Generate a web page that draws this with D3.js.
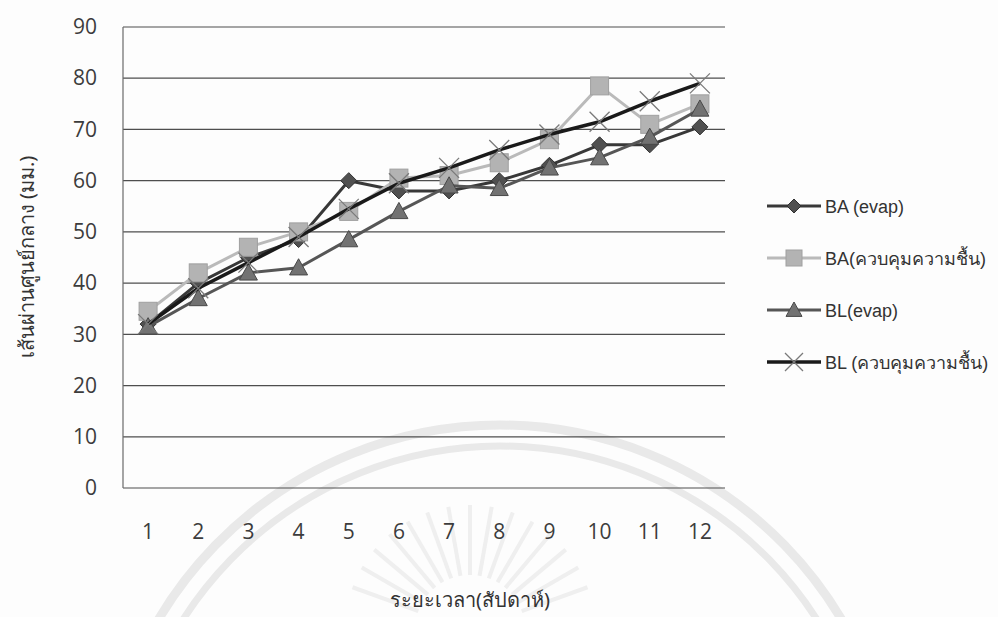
<!DOCTYPE html>
<html>
<head>
<meta charset="utf-8">
<script src="https://cdn.jsdelivr.net/npm/d3@7/dist/d3.min.js"></script>
<style>
  html, body { margin: 0; padding: 0; background: #fdfdfd; }
  svg { display: block; }
</style>
</head>
<body>
<svg id="chart" width="998" height="617"></svg>
<script>
// Weeks on the x axis
const weeks = ["1", "2", "3", "4", "5", "6", "7", "8", "9", "10", "11", "12"];
// Stem diameter (mm) per week for each treatment
const baEvap    = [32, 40, 45, 48.5, 60, 58, 58, 60, 63, 67, 67, 70.5];
const baControl = [34.5, 42, 47, 50, 54, 60.5, 61, 63.5, 68, 78.5, 71, 75];
const blEvap    = [31.5, 37, 42, 43, 48.5, 54, 59, 58.5, 62.5, 64.5, 68.5, 74];
const blControl = [32, 39, 44, 49, 54.5, 59.5, 62.5, 66, 69, 71.5, 75.5, 79];
const yTicks = [0, 10, 20, 30, 40, 50, 60, 70, 80, 90];
const seriesNames = ["BA (evap)", "BA(ควบคุมความชื้น)", "BL(evap)", "BL (ควบคุมความชื้น)"];
const yTitle = "เส้นผ่านศูนย์กลาง (มม.)";
const xTitle = "ระยะเวลา(สัปดาห์)";

const series = [
  { name: seriesNames[0], values: baEvap,    line: "#383838", lw: 3,   marker: "diamond",  mfill: "#505050", mstroke: "#303030", size: 8 },
  { name: seriesNames[1], values: baControl, line: "#bababa", lw: 3,   marker: "square",   mfill: "#b3b3b3", mstroke: "#a0a0a0", size: 9 },
  { name: seriesNames[2], values: blEvap,    line: "#565656", lw: 3,   marker: "triangle", mfill: "#727272", mstroke: "#484848", size: 9 },
  { name: seriesNames[3], values: blControl, line: "#1a1a1a", lw: 3.5, marker: "cross",    mfill: "none",    mstroke: "#7a7a7a", size: 10 }
];

const svg = d3.select("#chart");
const plot = { left: 123, right: 725, top: 27, bottom: 488 };

const x = d3.scaleBand().domain(weeks).range([plot.left, plot.right]);
const y = d3.scaleLinear().domain([0, 90]).range([plot.bottom, plot.top]);

// Faint emblem in the background: two arcs and a fan of rays
const bg = svg.append("g").attr("fill", "none").attr("stroke", "#e9e9e9");
[[397, 9], [376, 7]].forEach(([r, w]) => {
  bg.append("path")
    .attr("d", d3.arc()({ innerRadius: r, outerRadius: r, startAngle: -1.6, endAngle: 1.6 }))
    .attr("transform", "translate(500,822)")
    .attr("stroke-width", w);
});
d3.range(-70, 71, 10).forEach(a => {
  const t = (a - 90) * Math.PI / 180;
  bg.append("line")
    .attr("x1", 470 + 55 * Math.cos(t)).attr("y1", 630 + 55 * Math.sin(t))
    .attr("x2", 470 + 125 * Math.cos(t)).attr("y2", 630 + 125 * Math.sin(t))
    .attr("stroke-width", 4).attr("stroke", "#efefef");
});

// Horizontal gridlines
svg.append("g")
  .selectAll("line")
  .data(yTicks)
  .join("line")
  .attr("x1", plot.left).attr("x2", plot.right)
  .attr("y1", d => y(d)).attr("y2", d => y(d))
  .attr("stroke", "#4e4e4e").attr("stroke-width", 1.2);

// Left axis line
svg.append("line")
  .attr("x1", plot.left).attr("x2", plot.left)
  .attr("y1", plot.top).attr("y2", plot.bottom)
  .attr("stroke", "#6a6a6a").attr("stroke-width", 1.2);

const tickFont = "'Open Sans', Lato, sans-serif";

// Y axis labels
const yAxis = svg.append("g")
  .attr("transform", `translate(${plot.left},0)`)
  .call(d3.axisLeft(y).tickValues(yTicks).tickSize(0).tickPadding(26));
yAxis.select(".domain").remove();
yAxis.selectAll("text")
  .attr("font-family", tickFont)
  .attr("font-size", 21).attr("fill", "#3c3c3c");

// X axis labels
const xAxis = svg.append("g")
  .attr("transform", `translate(0,${plot.bottom})`)
  .call(d3.axisBottom(x).tickSize(0).tickPadding(36));
xAxis.select(".domain").remove();
xAxis.selectAll("text")
  .attr("font-family", tickFont)
  .attr("font-size", 21).attr("fill", "#3c3c3c");

// Axis titles
svg.append("text")
  .attr("transform", `translate(34,257) rotate(-90)`)
  .attr("text-anchor", "middle")
  .attr("font-family", "'Noto Sans', 'DejaVu Sans', sans-serif")
  .attr("font-size", 20).attr("fill", "#333")
  .text(yTitle);

svg.append("text")
  .attr("x", 470).attr("y", 607)
  .attr("text-anchor", "middle")
  .attr("font-family", "'Noto Sans', 'DejaVu Sans', sans-serif")
  .attr("font-size", 20).attr("fill", "#333")
  .text(xTitle);

const cx = d => x(d) + x.bandwidth() / 2;

function drawMarker(g, s, px, py, k) {
  if (s.marker === "diamond") {
    g.append("path").attr("d", `M${px},${py - k}L${px + k},${py}L${px},${py + k}L${px - k},${py}Z`)
      .attr("fill", s.mfill).attr("stroke", s.mstroke).attr("stroke-width", 1);
  } else if (s.marker === "square") {
    g.append("rect").attr("x", px - k).attr("y", py - k).attr("width", 2 * k).attr("height", 2 * k)
      .attr("fill", s.mfill).attr("stroke", s.mstroke).attr("stroke-width", 1);
  } else if (s.marker === "triangle") {
    g.append("path").attr("d", `M${px},${py - k}L${px + k},${py + k * 0.8}L${px - k},${py + k * 0.8}Z`)
      .attr("fill", s.mfill).attr("stroke", s.mstroke).attr("stroke-width", 1);
  } else {
    g.append("path").attr("d", `M${px - k},${py - k}L${px + k},${py + k}M${px - k},${py + k}L${px + k},${py - k}`)
      .attr("stroke", s.mstroke).attr("stroke-width", 1.3);
  }
}

const line = d3.line().x((d, i) => cx(weeks[i])).y(d => y(d));

// Series lines and markers
series.forEach(s => {
  const g = svg.append("g");
  g.append("path").datum(s.values)
    .attr("d", line).attr("fill", "none")
    .attr("stroke", s.line).attr("stroke-width", s.lw).attr("stroke-linejoin", "round");
  s.values.forEach((v, i) => drawMarker(g, s, cx(weeks[i]), y(v), s.size));
});

// Legend
const legendY = d3.scalePoint().domain(seriesNames).range([206, 362]);
series.forEach(s => {
  const ly = legendY(s.name);
  const g = svg.append("g");
  g.append("line").attr("x1", 767).attr("x2", 821).attr("y1", ly).attr("y2", ly)
    .attr("stroke", s.line).attr("stroke-width", s.lw);
  drawMarker(g, s, 794, ly, s.size - 1);
  g.append("text").attr("x", 825).attr("y", ly + 7)
    .attr("font-family", "'Liberation Sans', Arial, sans-serif")
    .attr("font-size", 18).attr("fill", "#333")
    .text(s.name);
});
</script>
</body>
</html>
